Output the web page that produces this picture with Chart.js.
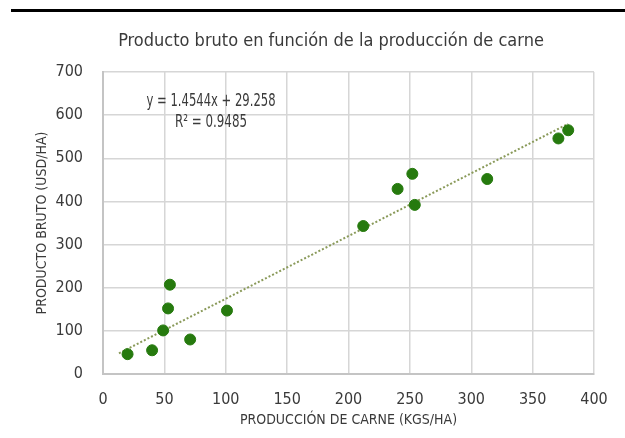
<!DOCTYPE html>
<html>
<head>
<meta charset="utf-8">
<script src="https://cdn.jsdelivr.net/npm/chart.js@4"></script>
<style>
  html, body { margin: 0; padding: 0; background: #fff; }
  #wrap { position: relative; width: 625px; height: 438px; }
  #rule { position: absolute; top: 9px; left: 11px; right: 0; height: 3px; background: #000; }
  canvas { position: absolute; top: 0; left: 0; }
</style>
</head>
<body>
<div id="wrap">
  <canvas id="chart" width="625" height="438"></canvas>
  <div id="rule"></div>
</div>
<script>
// datos
const produccionCarne = [20, 40, 49, 53, 54.5, 71, 101, 212, 240, 252, 254, 313, 371, 379];
const productoBruto = [46, 55, 101, 152, 207, 80, 147, 343, 429, 464, 392, 452, 546, 565];

// línea de tendencia (extremos)
const tendenciaX = [13, 379];
const tendenciaY = [48, 580];

const titulo = 'Producto bruto en función de la producción de carne';
const ecuacion = ['y = 1.4544x + 29.258', 'R² = 0.9485'];

const FONT = "'Liberation Sans Narrow', 'DejaVu Sans Condensed', sans-serif";
const TEXT = '#3a3a3a';

const puntos = produccionCarne.map((x, i) => ({ x: x, y: productoBruto[i] }));
const tendencia = tendenciaX.map((x, i) => ({ x: x, y: tendenciaY[i] }));

// texto condensado (ancho fijo)
function textoAngosto(c, txt, x, y, ancho) {
  const w = c.measureText(txt).width;
  const k = Math.min(1, ancho / w);
  c.save();
  c.translate(x, y);
  c.scale(k, 1);
  c.fillText(txt, 0, 0);
  c.restore();
}

// título y ecuación
const textosPlugin = {
  id: 'textos',
  afterDatasetsDraw(chart) {
    const c = chart.ctx;
    const xs = chart.scales.x, ys = chart.scales.y;
    c.save();
    c.fillStyle = TEXT;
    c.textAlign = 'center';
    c.textBaseline = 'middle';
    c.font = '18px ' + FONT;
    textoAngosto(c, titulo, 331, 41, 428);
    c.font = '17px ' + FONT;
    textoAngosto(c, ecuacion[0], xs.getPixelForValue(88), ys.getPixelForValue(632), 129);
    textoAngosto(c, ecuacion[1], xs.getPixelForValue(88), ys.getPixelForValue(582), 72);
    c.restore();
  }
};

const ctx = document.getElementById('chart').getContext('2d');
const chart = new Chart(ctx, {
  type: 'scatter',
  data: {
    datasets: [{
      label: 'Producto bruto',
      data: puntos,
      backgroundColor: '#267a0e',
      borderColor: '#267a0e',
      pointRadius: 5.5,
      pointHoverRadius: 5.5,
      order: 1
    }, {
      label: 'Lineal',
      type: 'line',
      data: tendencia,
      showLine: true,
      borderColor: '#8a9a5a',
      borderWidth: 2,
      borderDash: [2, 2],
      pointRadius: 0,
      fill: false,
      order: 2
    }]
  },
  options: {
    responsive: false,
    animation: false,
    events: [],
    layout: { padding: { left: 30, right: 31, top: 72, bottom: 0 } },
    plugins: {
      legend: { display: false },
      tooltip: { enabled: false },
      title: { display: false }
    },
    scales: {
      x: {
        type: 'linear',
        min: 0,
        max: 400,
        ticks: { stepSize: 50, color: TEXT, font: { family: FONT, size: 16 }, padding: 16, maxRotation: 0 },
        grid: { color: '#d6d6d6', lineWidth: 1.5, drawTicks: false },
        border: { color: '#c4c4c4', width: 2 },
        title: {
          display: true,
          text: 'PRODUCCIÓN DE CARNE (KGS/HA)',
          color: TEXT,
          font: { family: FONT, size: 14 },
          padding: { top: 0, bottom: 9 }
        },
        afterFit(s) { s.height = 64; }
      },
      y: {
        min: 0,
        max: 700,
        ticks: { stepSize: 100, color: TEXT, font: { family: FONT, size: 16 }, padding: 20 },
        grid: { color: '#d6d6d6', lineWidth: 1.5, drawTicks: false },
        border: { color: '#c4c4c4', width: 2 },
        title: {
          display: true,
          text: 'PRODUCTO BRUTO (USD/HA)',
          color: TEXT,
          font: { family: FONT, size: 14 },
          padding: { top: 4, bottom: 0 }
        },
        afterFit(s) { s.width = 73; }
      }
    }
  },
  plugins: [textosPlugin]
});
</script>
</body>
</html>
